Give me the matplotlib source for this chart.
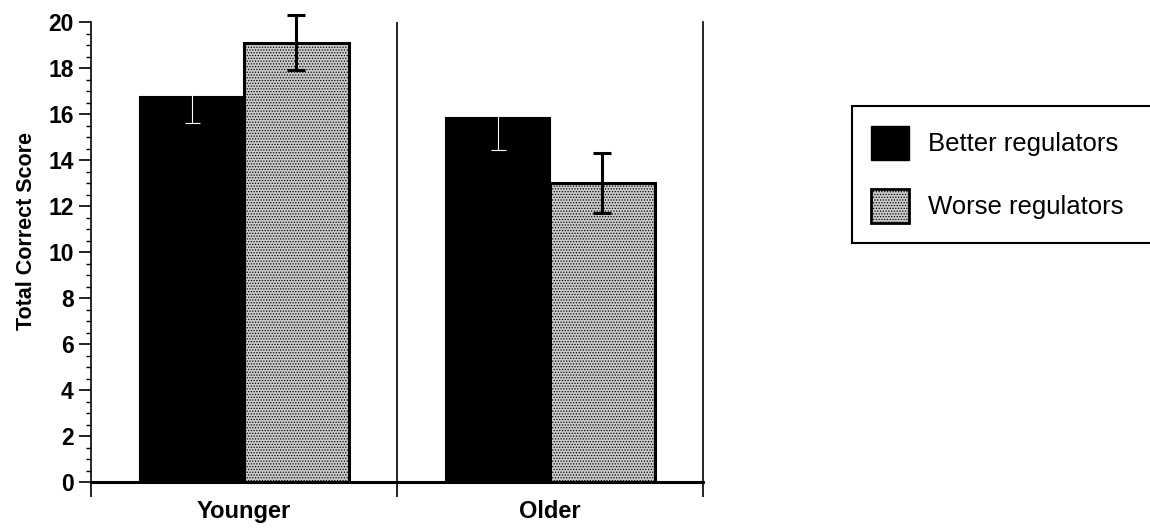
import numpy as np
import matplotlib
matplotlib.use("Agg")
import matplotlib.pyplot as plt
from matplotlib.patches import Patch
from matplotlib.ticker import MultipleLocator, FixedLocator, NullFormatter, FixedFormatter

# data
groups = ["Younger", "Older"]
better = [16.8, 15.85]
better_err = [1.2, 1.42]
worse = [19.1, 13.0]
worse_err = [1.2, 1.3]
series_names = ["Better regulators", "Worse regulators"]

plt.rcParams['font.family'] = ['Liberation Sans', 'DejaVu Sans']
plt.rcParams['hatch.linewidth'] = 0.6
plt.rcParams['hatch.color'] = '#777777'

W, H = 1150, 529
fig = plt.figure(figsize=(W / 100, H / 100), dpi=100)
ax = fig.add_axes([91 / W, (H - 482) / H, (703 - 91) / W, (482 - 22) / H])

centers = np.arange(len(groups)) + 0.5
bw = 0.343
grey = '#cbcbcb'

ax.bar(centers - bw / 2, better, bw, color='black', edgecolor='black', linewidth=0.8, zorder=2)
ax.bar(centers + bw / 2, worse, bw, color=grey, edgecolor='black', linewidth=2.2,
       hatch='......', zorder=2)

# white error bars on the black bars (upper half vanishes on white background)
eb1 = ax.errorbar(centers - bw / 2, better, yerr=better_err, fmt='none', ecolor='white',
                  elinewidth=0.8, capsize=5.4, capthick=0.8, zorder=3)
eb2 = ax.errorbar(centers + bw / 2, worse, yerr=worse_err, fmt='none', ecolor='black',
                  elinewidth=2.2, capsize=6.2, capthick=2.2, zorder=3)
for eb in (eb1, eb2):
    for art in eb.get_children():
        art.set_clip_on(False)

# group separator
ax.axvline(1, color='black', linewidth=1.2, zorder=1)

ax.set_xlim(0, 2)
ax.set_ylim(0, 20)

ax.spines['top'].set_visible(False)
ax.spines['left'].set_linewidth(1.2)
ax.spines['right'].set_linewidth(1.2)
ax.spines['bottom'].set_linewidth(2.2)

ax.yaxis.set_major_locator(MultipleLocator(2))
ax.yaxis.set_minor_locator(MultipleLocator(0.5))
ax.tick_params(axis='y', which='major', direction='out', length=8.5, width=1.2,
               labelsize=16.5, pad=4)
ax.tick_params(axis='y', which='minor', direction='out', length=3.6, width=1)
ax.tick_params(axis='y', right=False)
for lab in ax.get_yticklabels():
    lab.set_fontweight('bold')

ax.xaxis.set_major_locator(FixedLocator([0, 1, 2]))
ax.xaxis.set_major_formatter(NullFormatter())
ax.xaxis.set_minor_locator(FixedLocator(list(centers)))
ax.xaxis.set_minor_formatter(FixedFormatter(groups))
ax.tick_params(axis='x', which='major', direction='out', length=11, width=1.2)
ax.tick_params(axis='x', which='minor', length=0, labelsize=17, pad=13)
for lab in ax.get_xticklabels(minor=True):
    lab.set_fontweight('bold')

ax.set_ylabel("Total Correct Score", fontsize=15.5, fontweight='bold', va='center')
ax.yaxis.set_label_coords((27 - 91) / 612, (482 - 231) / 460)

handles = [Patch(facecolor='black', edgecolor='black'),
           Patch(facecolor=grey, edgecolor='black', linewidth=2, hatch='......')]
leg = fig.legend(handles, series_names, loc='upper left',
                 bbox_to_anchor=(852 / W, 1 - 107 / H, (1170 - 852) / W, 0.001),
                 mode='expand', fontsize=18.5, frameon=True, fancybox=False,
                 edgecolor='black', framealpha=1, borderpad=0.75, labelspacing=1.1,
                 handlelength=1.45, handleheight=1.7, handletextpad=0.75, borderaxespad=0)
leg.get_frame().set_linewidth(1.5)

fig.savefig("out.png", dpi=100)
